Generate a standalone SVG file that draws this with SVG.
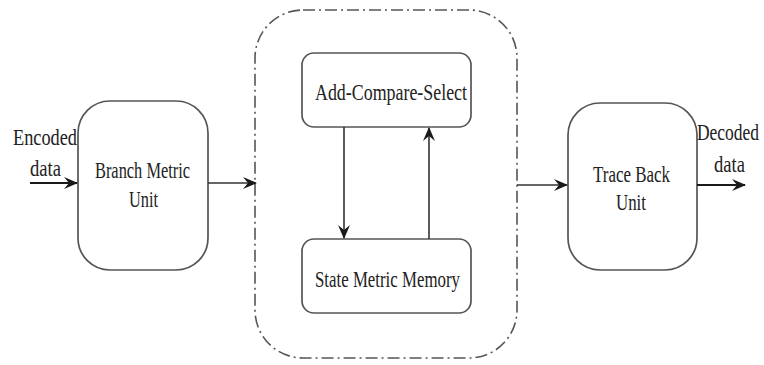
<svg xmlns="http://www.w3.org/2000/svg" width="764" height="365" viewBox="0 0 764 365">
  <defs>
    <marker id="dart" viewBox="0 0 14 12" refX="13" refY="6" markerWidth="14" markerHeight="12" markerUnits="userSpaceOnUse" orient="auto">
      <path d="M0,0 L14,6 L0,12 L5,6 Z" fill="#1a1a1a"/>
    </marker>
  </defs>
  <style>
    .box { fill: #ffffff; stroke: #555555; stroke-width: 1.7; }
    .group { fill: none; stroke: #555555; stroke-width: 1.6; stroke-dasharray: 12 4 2 4; }
    .wire { fill: none; stroke: #333333; stroke-width: 1.6; }
    .wire-bold { fill: none; stroke: #1a1a1a; stroke-width: 2.2; }
    .lbl { font-family: "Liberation Serif", "Times New Roman", serif; font-size: 24px; fill: #222222; }
  </style>

  <rect width="764" height="365" fill="#ffffff"/>

  <!-- dash-dot boundary around the ACS / memory loop -->
  <g id="acs-unit">
    <rect class="group" x="255" y="10" width="262" height="348" rx="48" ry="48"/>
  </g>

  <!-- labels are set in a narrowed serif: translate to the baseline start, squeeze horizontally -->
  <g id="branch-metric-unit">
    <rect class="box" x="78" y="101" width="130" height="169" rx="32" ry="32"/>
    <text class="lbl" transform="translate(95 178) scale(0.75 1)" textLength="126.7" lengthAdjust="spacingAndGlyphs">Branch Metric</text>
    <text class="lbl" transform="translate(129 207) scale(0.75 1)" textLength="38.7" lengthAdjust="spacingAndGlyphs">Unit</text>
  </g>

  <g id="add-compare-select">
    <rect class="box" x="302" y="53" width="169" height="74" rx="12" ry="12"/>
    <text class="lbl" transform="translate(315 100) scale(0.75 1)" textLength="202.7" lengthAdjust="spacingAndGlyphs">Add-Compare-Select</text>
  </g>

  <g id="state-metric-memory">
    <rect class="box" x="302" y="239" width="169" height="74" rx="12" ry="12"/>
    <text class="lbl" transform="translate(315 287) scale(0.75 1)" textLength="193.3" lengthAdjust="spacingAndGlyphs">State Metric Memory</text>
  </g>

  <g id="trace-back-unit">
    <rect class="box" x="568" y="103" width="129" height="167" rx="32" ry="32"/>
    <text class="lbl" transform="translate(593 182) scale(0.75 1)" textLength="102.7" lengthAdjust="spacingAndGlyphs">Trace Back</text>
    <text class="lbl" transform="translate(616 210) scale(0.75 1)" textLength="40" lengthAdjust="spacingAndGlyphs">Unit</text>
  </g>

  <g id="input-label">
    <text class="lbl" transform="translate(13 145) scale(0.75 1)" textLength="85.3" lengthAdjust="spacingAndGlyphs">Encoded</text>
    <text class="lbl" transform="translate(30 176) scale(0.75 1)" textLength="41.3" lengthAdjust="spacingAndGlyphs">data</text>
  </g>

  <g id="output-label">
    <text class="lbl" transform="translate(697 140) scale(0.75 1)" textLength="82.7" lengthAdjust="spacingAndGlyphs">Decoded</text>
    <text class="lbl" transform="translate(714 172) scale(0.75 1)" textLength="41.3" lengthAdjust="spacingAndGlyphs">data</text>
  </g>

  <g id="connectors">
    <line class="wire-bold" x1="30" y1="183" x2="77" y2="183" marker-end="url(#dart)"/>
    <line class="wire" x1="208" y1="183" x2="256" y2="183" marker-end="url(#dart)"/>
    <line class="wire" x1="344" y1="127" x2="344" y2="238" marker-end="url(#dart)"/>
    <line class="wire" x1="429" y1="239" x2="429" y2="128" marker-end="url(#dart)"/>
    <line class="wire" x1="517" y1="185" x2="567" y2="185" marker-end="url(#dart)"/>
    <line class="wire-bold" x1="697" y1="185" x2="745" y2="185" marker-end="url(#dart)"/>
  </g>
</svg>
